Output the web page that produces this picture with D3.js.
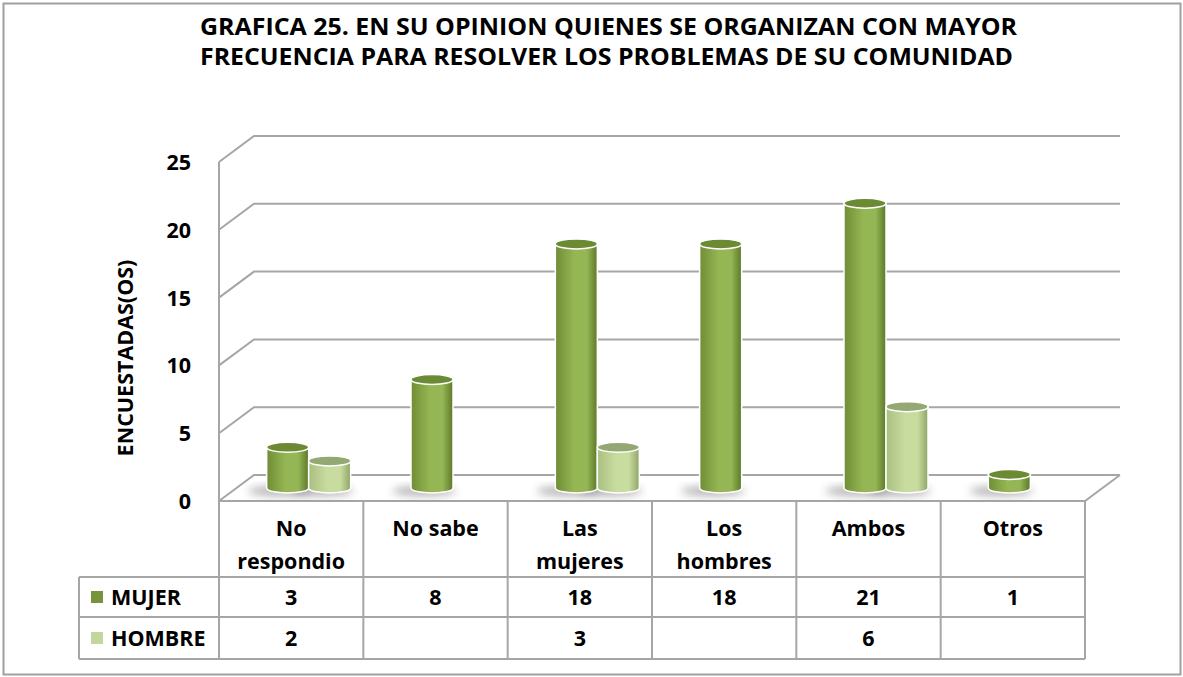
<!DOCTYPE html>
<html>
<head>
<meta charset="utf-8">
<script src="https://cdn.jsdelivr.net/npm/d3@7"></script>
<style>
  body { margin: 0; background: #fff; }
  svg text { font-family: "Open Sans", Lato, sans-serif; font-weight: bold; fill: #000; }
</style>
</head>
<body>
<svg id="chart" width="1183" height="677"></svg>
<script>
// data
var categories = [["No", "respondio"], ["No sabe"], ["Las", "mujeres"], ["Los", "hombres"], ["Ambos"], ["Otros"]];
var seriesNames = ["MUJER", "HOMBRE"];
var mujer = [3, 8, 18, 18, 21, 1];
var hombre = [2, null, 3, null, 6, null];
var yTicks = [0, 5, 10, 15, 20, 25];
var titleLines = ["GRAFICA 25. EN SU OPINION QUIENES SE ORGANIZAN CON MAYOR",
                  "FRECUENCIA PARA RESOLVER LOS PROBLEMAS DE SU COMUNIDAD"];

var svg = d3.select("#chart");
var grid = "#a6a6a6";
var fs = "21.5px";

// 3d depth offset (front -> back)
var dx = 35, dy = -26;

var x = d3.scaleBand().domain(d3.range(categories.length)).range([219, 1085]);
var yFront = d3.scaleLinear().domain([0, 25]).range([501, 162]);
var y = function(v) { return yFront(v) + dy / 2; }; // bars sit at mid depth

var defs = svg.append("defs");
function cylGrad(id, c0, c1, c2) {
  var g = defs.append("linearGradient").attr("id", id).attr("x1", 0).attr("x2", 1).attr("y1", 0).attr("y2", 0);
  g.append("stop").attr("offset", "0%").attr("stop-color", c0);
  g.append("stop").attr("offset", "45%").attr("stop-color", c1);
  g.append("stop").attr("offset", "75%").attr("stop-color", c1);
  g.append("stop").attr("offset", "100%").attr("stop-color", c2);
}
cylGrad("gM", "#6f8d34", "#95b654", "#5c7829");
cylGrad("gH", "#a9bf7f", "#c8dca0", "#8fa467");
defs.append("filter").attr("id", "blur").attr("x", "-50%").attr("y", "-50%").attr("width", "200%").attr("height", "200%")
  .append("feGaussianBlur").attr("stdDeviation", 4);

// outer frame
svg.append("rect").attr("x", 3.5).attr("y", 3.5).attr("width", 1177).attr("height", 671)
  .attr("fill", "none").attr("stroke", "#a0a0a0").attr("stroke-width", 2);

// title
svg.selectAll("text.title").data(titleLines).enter().append("text")
  .attr("class", "title")
  .attr("x", 200).attr("y", function(d, i) { return 35 + i * 30; })
  .attr("textLength", function(d, i) { return i ? 813 : 817; })
  .attr("lengthAdjust", "spacingAndGlyphs")
  .style("font-size", "23px")
  .text(function(d) { return d; });

// walls: gridlines with slanted left side
var x0 = x.range()[0], x1 = x.range()[1];
var gl = svg.append("g").attr("stroke", grid).attr("stroke-width", 2).attr("fill", "none");
yTicks.forEach(function(t) {
  var yf = yFront(t);
  gl.append("path").attr("d", "M" + x0 + "," + yf + "L" + (x0 + dx) + "," + (yf + dy) + "L" + (x1 + dx) + "," + (yf + dy));
});
// floor front edge and right side
gl.append("path").attr("d", "M" + x0 + "," + yFront(0) + "L" + x1 + "," + yFront(0) + "L" + (x1 + dx) + "," + (yFront(0) + dy));
// front vertical axis down through table
gl.append("line").attr("x1", x0).attr("x2", x0).attr("y1", yFront(25)).attr("y2", 659);

// tick labels
svg.selectAll("text.tick").data(yTicks).enter().append("text")
  .attr("x", 191).attr("y", function(d) { return yFront(d) + 8; })
  .attr("text-anchor", "end").style("font-size", fs)
  .text(function(d) { return d; });

// y axis title
svg.append("text")
  .attr("transform", "translate(133,358) rotate(-90)")
  .attr("text-anchor", "middle").style("font-size", fs)
  .text("ENCUESTADAS(OS)");

// cylinders
var bw = 42, ry = 5;
var bars = [];
mujer.forEach(function(v, i) { if (v != null) bars.push({ i: i, s: 0, v: v }); });
hombre.forEach(function(v, i) { if (v != null) bars.push({ i: i, s: 1, v: v }); });

function barLeft(d) { return x(d.i) + x.bandwidth() / 2 + dx / 2 - bw + d.s * bw; }

var shadows = svg.append("g");
shadows.selectAll("ellipse").data(bars).enter().append("ellipse")
  .attr("cx", function(d) { return barLeft(d) + bw / 2 - 8; })
  .attr("cy", y(0) + 3)
  .attr("rx", bw * 0.75).attr("ry", 5)
  .attr("fill", "#555").attr("opacity", 0.45)
  .attr("filter", "url(#blur)");

var cyl = svg.append("g").selectAll("g").data(bars).enter().append("g");
cyl.append("path")
  .attr("d", function(d) {
    var l = barLeft(d), r = l + bw, top = y(d.v), base = y(0);
    return "M" + l + "," + top + "L" + l + "," + base +
      "A" + (bw / 2) + "," + ry + " 0 0 0 " + r + "," + base +
      "L" + r + "," + top + "Z";
  })
  .attr("fill", function(d) { return d.s ? "url(#gH)" : "url(#gM)"; })
  .attr("stroke", "#fff").attr("stroke-width", 1.5);
cyl.append("ellipse")
  .attr("cx", function(d) { return barLeft(d) + bw / 2; })
  .attr("cy", function(d) { return y(d.v); })
  .attr("rx", bw / 2).attr("ry", ry)
  .attr("fill", function(d) { return d.s ? "#93a872" : "#6b8a33"; })
  .attr("stroke", "#fff").attr("stroke-width", 1.5);

// data table
var rowTop = [501, 577, 617, 659];
var tbl = svg.append("g").attr("stroke", grid).attr("stroke-width", 2).attr("fill", "none");
x.domain().forEach(function(i) {
  tbl.append("line").attr("x1", x(i) + x.bandwidth()).attr("x2", x(i) + x.bandwidth())
    .attr("y1", rowTop[0]).attr("y2", rowTop[3]);
});
[rowTop[1], rowTop[2], rowTop[3]].forEach(function(yy) {
  tbl.append("line").attr("x1", 79).attr("x2", x1).attr("y1", yy).attr("y2", yy);
});
tbl.append("line").attr("x1", 79).attr("x2", 79).attr("y1", rowTop[1]).attr("y2", rowTop[3]);

// category labels
var catG = svg.selectAll("g.cat").data(categories).enter().append("g").attr("class", "cat");
catG.selectAll("text").data(function(d, i) { return d.map(function(t) { return { t: t, i: i }; }); })
  .enter().append("text")
  .attr("x", function(d) { return x(d.i) + x.bandwidth() / 2; })
  .attr("y", function(d, k) { return 536 + k * 33; })
  .attr("text-anchor", "middle").style("font-size", fs)
  .text(function(d) { return d.t; });

// legend column + values
var seriesVals = [mujer, hombre];
var seriesCol = ["#77933c", "#c3d69b"];
seriesNames.forEach(function(name, s) {
  var cy = (rowTop[s + 1] + rowTop[s + 2]) / 2;
  svg.append("rect").attr("x", 91).attr("y", cy - 6).attr("width", 12).attr("height", 12).attr("fill", seriesCol[s]);
  svg.append("text").attr("x", 111).attr("y", cy + 8).style("font-size", fs).text(name);
  svg.selectAll("text.v" + s).data(seriesVals[s]).enter().append("text")
    .attr("x", function(d, i) { return x(i) + x.bandwidth() / 2; })
    .attr("y", cy + 8)
    .attr("text-anchor", "middle").style("font-size", fs)
    .text(function(d) { return d == null ? "" : d; });
});
</script>
</body>
</html>
